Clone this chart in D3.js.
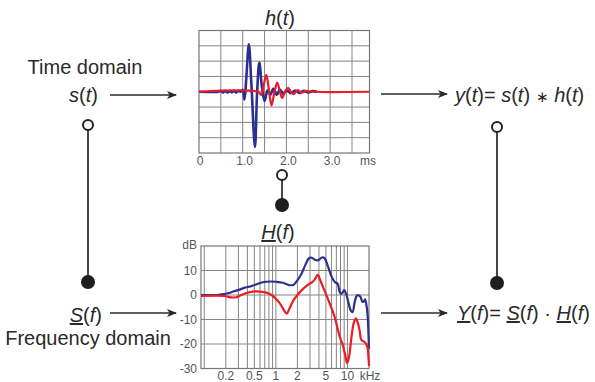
<!DOCTYPE html>
<html>
<head>
<meta charset="utf-8">
<script src="https://cdn.jsdelivr.net/npm/d3@7"></script>
<style>
  body { margin: 0; background: #fff; }
  text { font-family: "Liberation Sans", Arial, sans-serif; fill: #2a2a2a; }
  .tick { font-size: 12px; fill: #555; }
  .big { font-size: 20px; }
  .it { font-style: italic; }
  .ul { text-decoration: underline; }
  .op { font-size: 15px; }
</style>
</head>
<body>
<script>
// impulse response h(t): [ms, arbitrary units]
var hBlue = [
  [0, 0], [0.45, 0], [0.5, 0.06], [0.55, -0.05], [0.6, 0.06], [0.65, -0.05], [0.7, 0.05],
  [0.75, -0.04], [0.8, 0.06], [0.85, -0.05], [0.9, 0.06], [0.95, 0], [1.0, 0.12],
  [1.04, -0.5], [1.08, 0.8], [1.14, 3.1], [1.2, 0.4], [1.28, -3.6], [1.33, 0], [1.38, 1.9],
  [1.44, 0.3], [1.5, -0.6], [1.57, 0.1], [1.63, -0.2], [1.7, 0.2], [1.78, -0.2],
  [1.85, 0.15], [1.93, -0.15], [2.0, 0.1], [2.1, -0.1], [2.2, 0.08], [2.3, -0.08],
  [2.4, 0.06], [2.5, -0.05], [2.6, 0.04], [2.7, 0]
];
var hRed = [
  [0, 0], [1.35, 0], [1.42, -0.2], [1.47, 0.3], [1.54, 1.1], [1.6, 0.1], [1.66, -0.9],
  [1.72, -0.1], [1.79, 0.6], [1.85, 0], [1.9, -0.4], [1.97, 0], [2.04, 0.25], [2.1, 0],
  [2.17, -0.15], [2.25, 0.1], [2.35, -0.05], [2.45, 0.05], [2.6, 0], [3.9, 0]
];
// frequency response H(f): [kHz, dB]
var HBlue = [
  [0.09, 0], [0.15, 0], [0.19, 0.4], [0.22, 0.8], [0.26, 1.5], [0.31, 2.2], [0.36, 2.9],
  [0.45, 3.6], [0.55, 4.5], [0.68, 5.3], [0.85, 5.5], [1.0, 5.4], [1.25, 5.0], [1.5, 4.1],
  [1.75, 4.1], [2.0, 6.0], [2.3, 8.9], [2.6, 12.5], [2.9, 15.0], [3.2, 15.2], [3.5, 14.4],
  [3.9, 14.2], [4.4, 15.3], [4.8, 15.0], [5.3, 12.0], [6.0, 7.5], [6.7, 5.2], [7.3, 4.6],
  [7.8, 1.2], [8.3, 0.5], [9.0, 2.0], [9.6, 0.5], [10.4, -3.5], [11.2, -6.5], [11.8, -7.0],
  [12.6, -3.0], [13.6, -0.2], [14.5, -0.2], [15.3, -0.9], [16.2, -2.8], [17.0, -2.6],
  [17.6, -1.8], [18.5, -4.5], [19.2, -9], [19.6, -15], [20, -22]
];
var HRed = [
  [0.09, -0.4], [0.19, -0.4], [0.24, -1.0], [0.28, -0.9], [0.33, 0], [0.4, 0.9], [0.47, 1.4],
  [0.6, 1.4], [0.75, 0.9], [0.9, -0.3], [1.0, -1.6], [1.15, -3.6], [1.3, -6.3], [1.42, -7.6],
  [1.55, -5.5], [1.75, -2.3], [1.95, -0.4], [2.3, 2.0], [2.8, 4.1], [3.3, 5.5], [3.6, 7.0],
  [3.85, 8.2], [4.2, 5.8], [4.6, 3.0], [5.4, -2.0], [6.6, -8.8], [7.8, -17], [8.6, -20.4],
  [9.3, -24.5], [9.9, -27.8], [10.5, -25.5], [11.3, -18], [12.2, -11.6], [13.1, -9.5],
  [14.0, -11.5], [14.8, -14.5], [15.7, -18.4], [17.4, -19.2], [19.0, -21.2], [19.6, -25],
  [20, -29]
];
var timeTicks = [0, 1, 2, 3];
var timeLabels = ["0", "1.0", "2.0", "3.0"];
var freqTicks = [0.2, 0.5, 1, 2, 5, 10];
var freqLabels = ["0.2", "0.5", "1", "2", "5", "10"];
var dbTicks = [10, 0, -10, -20, -30];

var blue = "#2b3090", red = "#ec1c24", gridCol = "#858585", ink = "#2a2a2a";

var svg = d3.select("body").append("svg")
    .attr("width", 595)
    .attr("height", 382);

svg.append("defs").append("marker")
    .attr("id", "arr")
    .attr("viewBox", "0 0 10 8")
    .attr("refX", 9).attr("refY", 4)
    .attr("markerWidth", 10).attr("markerHeight", 8)
    .attr("markerUnits", "userSpaceOnUse")
    .attr("orient", "auto")
    .append("path")
    .attr("d", "M0,0 L10,4 L0,8 L2.5,4 Z")
    .style("fill", ink);

// ---------- top chart h(t)
var xT = d3.scaleLinear().domain([0, 3.9]).range([199, 369.5]);
var yT = d3.scaleLinear().domain([-4, 4]).range([153, 30.5]);

var gT = svg.append("g");
gT.selectAll(".vg").data(d3.range(0.5, 3.9, 0.5)).enter().append("line")
    .attr("x1", function (d) { return xT(d); }).attr("x2", function (d) { return xT(d); })
    .attr("y1", yT(4)).attr("y2", yT(-4))
    .style("stroke", gridCol).style("stroke-width", 1);
gT.selectAll(".hg").data(d3.range(-3, 4, 1)).enter().append("line")
    .attr("x1", xT(0)).attr("x2", xT(3.9))
    .attr("y1", function (d) { return yT(d); }).attr("y2", function (d) { return yT(d); })
    .style("stroke", gridCol).style("stroke-width", 1);
gT.append("rect")
    .attr("x", xT(0)).attr("y", yT(4))
    .attr("width", xT(3.9) - xT(0)).attr("height", yT(-4) - yT(4))
    .style("fill", "none").style("stroke", "#777").style("stroke-width", 1.2);

var lineT = d3.line()
    .x(function (d) { return xT(d[0]); })
    .y(function (d) { return yT(d[1]); })
    .curve(d3.curveCatmullRom);
gT.append("path").attr("d", lineT(hBlue))
    .style("fill", "none").style("stroke", blue).style("stroke-width", 2.6);
gT.append("path").attr("d", lineT(hRed))
    .style("fill", "none").style("stroke", red).style("stroke-width", 2.2);

gT.selectAll(".tl").data(timeTicks).enter().append("text")
    .attr("class", "tick")
    .attr("x", function (d) { return xT(d) + (d === 0 ? 1 : 2); })
    .attr("y", 165)
    .style("text-anchor", "middle")
    .text(function (d, i) { return timeLabels[i]; });
gT.append("text").attr("class", "tick")
    .attr("x", 368).attr("y", 165).style("text-anchor", "middle").text("ms");

var tT = gT.append("text").attr("class", "big").attr("x", 280).attr("y", 25)
    .style("text-anchor", "middle");
tT.append("tspan").attr("class", "it").text("h");
tT.append("tspan").text("(");
tT.append("tspan").attr("class", "it").text("t");
tT.append("tspan").text(")");

// ---------- bottom chart H(f)
var xF = d3.scaleLog().domain([0.09, 20]).range([201, 369]);
var yF = d3.scaleLinear().domain([-30, 20]).range([368.5, 246]);

var gF = svg.append("g");
gF.selectAll(".vg").data(xF.ticks().filter(function (d) { return d > 0.09 && d < 20; }))
    .enter().append("line")
    .attr("x1", function (d) { return xF(d); }).attr("x2", function (d) { return xF(d); })
    .attr("y1", yF(20)).attr("y2", yF(-30))
    .style("stroke", gridCol).style("stroke-width", 1);
gF.selectAll(".hg").data([10, 0, -10, -20]).enter().append("line")
    .attr("x1", xF(0.09)).attr("x2", xF(20))
    .attr("y1", function (d) { return yF(d); }).attr("y2", function (d) { return yF(d); })
    .style("stroke", gridCol).style("stroke-width", 1);
gF.append("rect")
    .attr("x", xF(0.09)).attr("y", yF(20))
    .attr("width", xF(20) - xF(0.09)).attr("height", yF(-30) - yF(20))
    .style("fill", "none").style("stroke", "#777").style("stroke-width", 1.2);

var lineF = d3.line()
    .x(function (d) { return xF(d[0]); })
    .y(function (d) { return yF(d[1]); })
    .curve(d3.curveCatmullRom);
gF.append("path").attr("d", lineF(HBlue))
    .style("fill", "none").style("stroke", blue).style("stroke-width", 2.2);
gF.append("path").attr("d", lineF(HRed))
    .style("fill", "none").style("stroke", red).style("stroke-width", 2.2);

gF.selectAll(".yl").data(dbTicks).enter().append("text")
    .attr("class", "tick")
    .attr("x", 197)
    .attr("y", function (d) { return yF(d) + 4; })
    .style("text-anchor", "end")
    .text(function (d) { return d; });
gF.append("text").attr("class", "tick")
    .attr("x", 197).attr("y", 249).style("text-anchor", "end").text("dB");
gF.selectAll(".xl").data(freqTicks).enter().append("text")
    .attr("class", "tick")
    .attr("x", function (d) { return xF(d); })
    .attr("y", 380)
    .style("text-anchor", "middle")
    .text(function (d, i) { return freqLabels[i]; });
gF.append("text").attr("class", "tick")
    .attr("x", 370).attr("y", 380).style("text-anchor", "middle").text("kHz");

var tF = gF.append("text").attr("class", "big").attr("x", 278).attr("y", 239)
    .style("text-anchor", "middle");
tF.append("tspan").attr("class", "it ul").text("H");
tF.append("tspan").text("(");
tF.append("tspan").attr("class", "it").text("f");
tF.append("tspan").text(")");

// ---------- arrows
var arrows = [[110, 95, 176, 95], [381, 94, 447, 94], [110, 313, 176, 313], [381, 313, 447, 313]];
svg.selectAll(".arrow").data(arrows).enter().append("line")
    .attr("x1", function (d) { return d[0]; }).attr("y1", function (d) { return d[1]; })
    .attr("x2", function (d) { return d[2]; }).attr("y2", function (d) { return d[3]; })
    .style("stroke", ink).style("stroke-width", 1.6)
    .attr("marker-end", "url(#arr)");

// ---------- transform links (open circle = time, filled = frequency)
var links = [[88, 125, 282], [497, 127, 283], [282, 175, 205]];
links.forEach(function (l) {
    svg.append("line").attr("x1", l[0]).attr("x2", l[0]).attr("y1", l[1]).attr("y2", l[2])
        .style("stroke", "#333").style("stroke-width", 1.8);
    svg.append("circle").attr("cx", l[0]).attr("cy", l[1]).attr("r", 5)
        .style("fill", "#fff").style("stroke", "#222").style("stroke-width", 2);
    svg.append("circle").attr("cx", l[0]).attr("cy", l[2]).attr("r", 7)
        .style("fill", "#1e1e1e");
});

// ---------- labels
svg.append("text").attr("class", "big").attr("x", 85).attr("y", 74)
    .style("text-anchor", "middle").text("Time domain");
var st = svg.append("text").attr("class", "big").attr("x", 98).attr("y", 102)
    .style("text-anchor", "end");
st.append("tspan").attr("class", "it").text("s");
st.append("tspan").text("(");
st.append("tspan").attr("class", "it").text("t");
st.append("tspan").text(")");

var sf = svg.append("text").attr("class", "big").attr("x", 102).attr("y", 322)
    .style("text-anchor", "end");
sf.append("tspan").attr("class", "it ul").text("S");
sf.append("tspan").text("(");
sf.append("tspan").attr("class", "it").text("f");
sf.append("tspan").text(")");
svg.append("text").attr("class", "big").attr("x", 88).attr("y", 345)
    .style("text-anchor", "middle").text("Frequency domain");

var yt = svg.append("text").attr("class", "big").attr("x", 455).attr("y", 102);
yt.append("tspan").attr("class", "it").text("y");
yt.append("tspan").text("(");
yt.append("tspan").attr("class", "it").text("t");
yt.append("tspan").text(")= ");
yt.append("tspan").attr("class", "it").text("s");
yt.append("tspan").text("(");
yt.append("tspan").attr("class", "it").text("t");
yt.append("tspan").text(") ");
yt.append("tspan").attr("class", "op").text("\u2217");
yt.append("tspan").text(" ");
yt.append("tspan").attr("class", "it").text("h");
yt.append("tspan").text("(");
yt.append("tspan").attr("class", "it").text("t");
yt.append("tspan").text(")");

var yf = svg.append("text").attr("class", "big").attr("x", 457).attr("y", 320);
yf.append("tspan").attr("class", "it ul").text("Y");
yf.append("tspan").text("(");
yf.append("tspan").attr("class", "it").text("f");
yf.append("tspan").text(")= ");
yf.append("tspan").attr("class", "it ul").text("S");
yf.append("tspan").text("(");
yf.append("tspan").attr("class", "it").text("f");
yf.append("tspan").text(") \u00b7 ");
yf.append("tspan").attr("class", "it ul").text("H");
yf.append("tspan").text("(");
yf.append("tspan").attr("class", "it").text("f");
yf.append("tspan").text(")");
</script>
</body>
</html>
